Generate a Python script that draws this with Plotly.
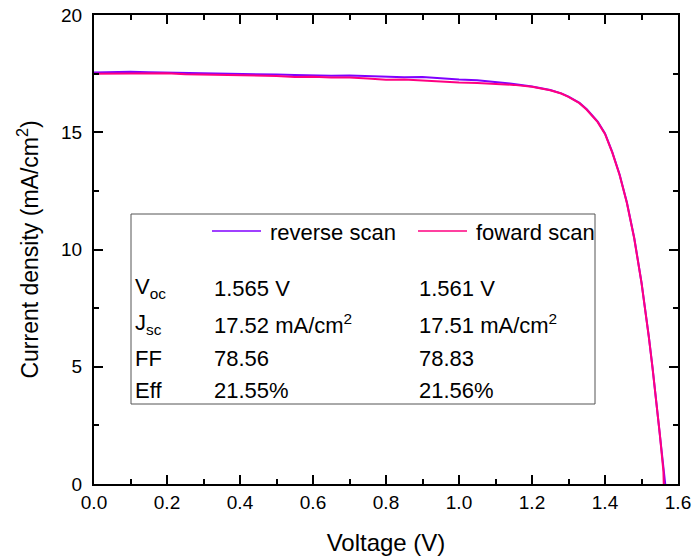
import plotly.graph_objects as go

# ---- data ----
v_rev = [0.00, 0.05, 0.10, 0.15, 0.20, 0.25, 0.30, 0.35, 0.40, 0.45, 0.50, 0.55,
         0.60, 0.65, 0.70, 0.75, 0.80, 0.85, 0.90, 0.95, 1.00, 1.05, 1.10, 1.15,
         1.20, 1.25, 1.28, 1.30, 1.33, 1.35, 1.38, 1.40, 1.42, 1.44, 1.46, 1.48,
         1.50, 1.51, 1.52, 1.53, 1.54, 1.55, 1.56, 1.565]
j_rev = [17.55, 17.57, 17.58, 17.56, 17.55, 17.52, 17.50, 17.49, 17.48, 17.47, 17.46, 17.44,
         17.42, 17.41, 17.42, 17.39, 17.36, 17.35, 17.36, 17.30, 17.25, 17.22, 17.15, 17.06,
         16.95, 16.80, 16.66, 16.52, 16.25, 15.98, 15.45, 14.95, 14.15, 13.20, 12.00, 10.50,
         8.60, 7.50, 6.30, 5.00, 3.65, 2.25, 0.75, 0.00]

v_fwd = [0.00, 0.05, 0.10, 0.15, 0.20, 0.25, 0.30, 0.35, 0.40, 0.45, 0.50, 0.55,
         0.60, 0.65, 0.70, 0.75, 0.80, 0.85, 0.90, 0.95, 1.00, 1.05, 1.10, 1.15,
         1.20, 1.25, 1.28, 1.30, 1.33, 1.35, 1.38, 1.40, 1.42, 1.44, 1.46, 1.48,
         1.50, 1.51, 1.52, 1.53, 1.54, 1.55, 1.56, 1.561]
j_fwd = [17.50, 17.51, 17.52, 17.50, 17.52, 17.47, 17.46, 17.42, 17.44, 17.41, 17.40, 17.36,
         17.37, 17.33, 17.33, 17.29, 17.24, 17.25, 17.20, 17.15, 17.12, 17.10, 17.07, 17.02,
         16.94, 16.79, 16.65, 16.51, 16.24, 15.96, 15.43, 14.93, 14.13, 13.18, 11.98, 10.48,
         8.58, 7.47, 6.27, 4.97, 3.60, 2.15, 0.55, 0.00]

series_names = ["reverse scan", "foward scan"]
series_colors = ["#8000FF", "#FF0080"]
row_labels = ["V<sub>oc</sub>", "J<sub>sc</sub>", "FF", "Eff"]
rev_params = ["1.565 V", "17.52 mA/cm<sup>2</sup>", "78.56", "21.55%"]
fwd_params = ["1.561 V", "17.51 mA/cm<sup>2</sup>", "78.83", "21.56%"]

x_ticks = [0.0, 0.2, 0.4, 0.6, 0.8, 1.0, 1.2, 1.4, 1.6]
x_ticklabels = ["0.0", "0.2", "0.4", "0.6", "0.8", "1.0", "1.2", "1.4", "1.6"]
y_ticks = [0, 5, 10, 15, 20]

FONT = "Liberation Sans, Arial, sans-serif"

fig = go.Figure()
fig.add_trace(go.Scatter(x=v_rev, y=j_rev, mode="lines", name=series_names[0],
                         line=dict(color=series_colors[0], width=2)))
fig.add_trace(go.Scatter(x=v_fwd, y=j_fwd, mode="lines", name=series_names[1],
                         line=dict(color=series_colors[1], width=2)))

W, H = 694, 556
L, R, T, B = 94, 16, 15, 72
pw, ph = W - L - R, H - T - B

def px(x):
    return (x - L) / pw

def py(y):
    return (H - B - y) / ph

# legend / parameter box
fig.add_shape(type="rect", xref="paper", yref="paper",
              x0=px(131), x1=px(595), y0=py(404), y1=py(214),
              line=dict(color="#555555", width=1), fillcolor="rgba(0,0,0,0)")

# legend samples
for i, (x0, x1, tx) in enumerate([(212, 261, 268), (418, 467, 474)]):
    fig.add_shape(type="line", xref="paper", yref="paper",
                  x0=px(x0), x1=px(x1), y0=py(231), y1=py(231),
                  line=dict(color=series_colors[i], width=1.5))
    fig.add_annotation(xref="paper", yref="paper", x=px(tx), y=py(232),
                       text=series_names[i], showarrow=False, xanchor="left",
                       yanchor="middle", font=dict(size=22, color="black", family=FONT))

rows_y = [288, 324, 358, 390]
for k in range(4):
    for xcol, txt in [(133, row_labels[k]), (212, rev_params[k]), (417, fwd_params[k])]:
        fig.add_annotation(xref="paper", yref="paper", x=px(xcol), y=py(rows_y[k]),
                           text=txt, showarrow=False, xanchor="left", yanchor="middle",
                           font=dict(size=22, color="black", family=FONT))

axis_common = dict(
    showline=True, linecolor="black", linewidth=2, mirror="allticks",
    ticks="inside", ticklen=9, tickwidth=1.5, tickcolor="black",
    showgrid=False, zeroline=False, automargin=False,
    tickfont=dict(size=19, color="black", family=FONT),
)

fig.update_xaxes(range=[0, 1.6], tickvals=x_ticks, ticktext=x_ticklabels,
                 minor=dict(dtick=0.1, ticks="inside", ticklen=5, tickwidth=1.5,
                            tickcolor="black", showgrid=False),
                 title=dict(text="Voltage (V)", font=dict(size=24, color="black", family=FONT),
                            standoff=22),
                 ticklabelstandoff=0,
                 **axis_common)
fig.update_yaxes(range=[0, 20], tickvals=y_ticks,
                 minor=dict(dtick=2.5, ticks="inside", ticklen=5, tickwidth=1.5,
                            tickcolor="black", showgrid=False),
                 title=dict(text="Current density (mA/cm<sup>2</sup>)",
                            font=dict(size=23, color="black", family=FONT), standoff=16),
                 ticklabelstandoff=6,
                 **axis_common)

fig.update_layout(width=W, height=H, margin=dict(l=L, r=R, t=T, b=B),
                  plot_bgcolor="white", paper_bgcolor="white", showlegend=False,
                  font=dict(family=FONT, color="black"))

fig.write_html("out.html")
